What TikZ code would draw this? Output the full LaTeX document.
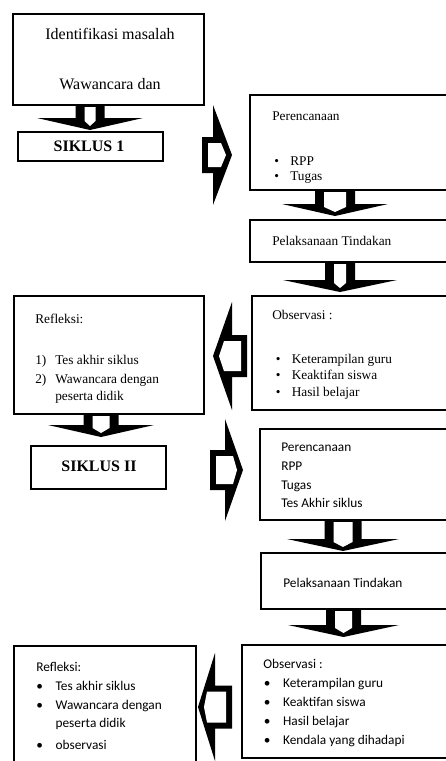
\documentclass[tikz,border=0pt]{standalone}
\usepackage{fontspec}
\setmainfont{Liberation Serif}
\newfontfamily\calib{Carlito}
\usetikzlibrary{calc,fit}
\newcommand\bul[1][12pt]{\makebox[#1][l]{\textbullet}}
\newcommand\numb[1]{\makebox[15pt][l]{#1}}

\begin{document}
\begin{tikzpicture}[
		x=0.75pt, y=-0.75pt,
		box/.style = {draw, line width=1.5pt, inner sep=0pt},% frames of the steps
		txt/.style = {anchor=base west, inner sep=0pt, font=\fontsize{10}{12}\selectfont},
		cal/.style = {txt, font=\calib\fontsize{10}{12}\selectfont},
		big/.style = {anchor=base, inner sep=0pt, font=\fontsize{12}{14}\selectfont},
		]
		\useasboundingbox (0,0) rectangle (446,761);
		\clip (0,0) rectangle (446,761);
		% frames, siklus 1
		\node[box, fit={(13,14) (204,105)}] (A) {};
		\node[box, fit={(18,132) (163,161)}] (S1) {};
		\node[box, fit={(250,95) (460,190)}] (P1) {};
		\node[box, fit={(250,220) (460,262)}] (Pel1) {};
		\node[box, fit={(252,296) (460,410)}] (O1) {};
		\node[box, fit={(14,296) (204,414)}] (R1) {};
		% frames, siklus 2
		\node[box, fit={(31,446) (166,489)}] (S2) {};
		\node[box, fit={(260,429) (460,520)}] (P2) {};
		\node[box, fit={(261,553) (460,609)}] (Pel2) {};
		\node[box, fit={(242,645) (460,758)}] (O2) {};
		\node[box, fit={(14,646) (196,775)}] (Rf2) {};
		% texts
		\node[big] (At1) at (110,39) {Identifikasi masalah};
		\node[big] (At2) at (110,89) {Wawancara dan};
		\node[big, font=\fontsize{12}{14}\selectfont\bfseries] (S1t) at (89,151.5) {SIKLUS 1};
		\node[big, font=\fontsize{12}{14}\selectfont\bfseries] (S2t) at (99,471) {SIKLUS II};
		\node[txt] (P1t) at (272,120) {Perencanaan};
		\foreach \itm [count=\i] in {RPP,Tugas}
		\node[txt] (P1i\i) at (274,150+15*\i) {\bul\itm};
		\node[txt] (Pel1t) at (272,245) {Pelaksanaan Tindakan};
		\node[txt] (O1t) at (272,319) {Observasi :};
		\foreach \itm [count=\i] in {Keterampilan guru,Keaktifan siswa,Hasil belajar}
		\node[txt] (O1i\i) at (275.5,346.5+16.5*\i) {\bul\itm};
		\node[txt] (R1t) at (35,323) {Refleksi:};
		\node[txt] (R1i1) at (35,364) {\numb{1)}Tes akhir siklus};
		\node[txt] (R1i2) at (35,383) {\numb{2)}Wawancara dengan};
		\node[txt] (R1i3) at (55,400) {peserta didik};
		\foreach \itm [count=\i] in {Perencanaan,RPP,Tugas,Tes Akhir siklus}
		\node[cal] (P2i\i) at (281,433+18.7*\i) {\itm};
		\node[cal] (Pel2t) at (283,587) {Pelaksanaan Tindakan};
		\node[cal] (O2t) at (263,668) {Observasi :};
		\foreach \itm [count=\i] in {Keterampilan guru,Keaktifan siswa,Hasil belajar,Kendala yang dihadapi}
		\node[cal] (O2i\i) at (263.5,668+19*\i) {\bul[14.5pt]\itm};
		\node[cal] (Rf2t) at (36,671) {Refleksi:};
		\node[cal] (Rf2i1) at (36,690) {\bul[14.5pt]Tes akhir siklus};
		\node[cal] (Rf2i2) at (36,709) {\bul[14.5pt]Wawancara dengan};
		\node[cal] (Rf2i3) at (55.3,727) {peserta didik};
		\node[cal] (Rf2i4) at (36,749) {\bul[14.5pt]observasi};
		% block arrows going down, from frame to frame
		\foreach \src/\dst/\xc/\gap/\sw/\hw in {A/S1/90/1/14.5/53, P1/Pel1/335/3/20/53,
			Pel1/O1/340/3/15/57, R1/S2/101/8/17.5/53, P2/Pel2/343/1/18.5/56, Pel2/O2/343.5/7/17.5/55.5}{
			\coordinate (top) at (\xc,0 |- \src.south);
			\coordinate (tip) at ($(\xc,0 |- \dst.north)+(0,-\gap)$);
			\coordinate (base) at ($(tip)+(0,-12)$);
			\fill ($(top)+(-\sw,0)$) -- ($(top)+(\sw,0)$) -- ($(base)+(\sw,0)$) -- ($(base)+(\hw,0)$)
			-- (tip) -- ($(base)+(-\hw,0)$) -- ($(base)+(-\sw,0)$) -- cycle;
			\fill[white] ($(top)+(9-\sw,1)$) -- ($(top)+(\sw-9,1)$) -- ($(base)+(\sw-9,3)$)
			-- ($(tip)+(0,-4)$) -- ($(base)+(9-\sw,3)$) -- cycle;
		}
		% block arrows going sideways
		\foreach \xs/\xb/\xt/\yc/\sw/\hw in {202/213/232/155/18/50, 247/232/213/356/21/54,
			210/225/243/470/20/51, 232/215/198/707/21.5/54}{
			\pgfmathsetmacro\dd{sign(\xt-\xs)}
			\fill (\xs,\yc-\sw) -- (\xb,\yc-\sw) -- (\xb,\yc-\hw) -- (\xt,\yc) -- (\xb,\yc+\hw)
			-- (\xb,\yc+\sw) -- (\xs,\yc+\sw) -- cycle;
			\fill[white] (\xs+6*\dd,\yc-\sw+6) -- (\xb+8*\dd,\yc-\sw+6) -- (\xt-6*\dd,\yc)
			-- (\xb+8*\dd,\yc+\sw-6) -- (\xs+6*\dd,\yc+\sw-6) -- cycle;
		}
	\end{tikzpicture}
\end{document}
